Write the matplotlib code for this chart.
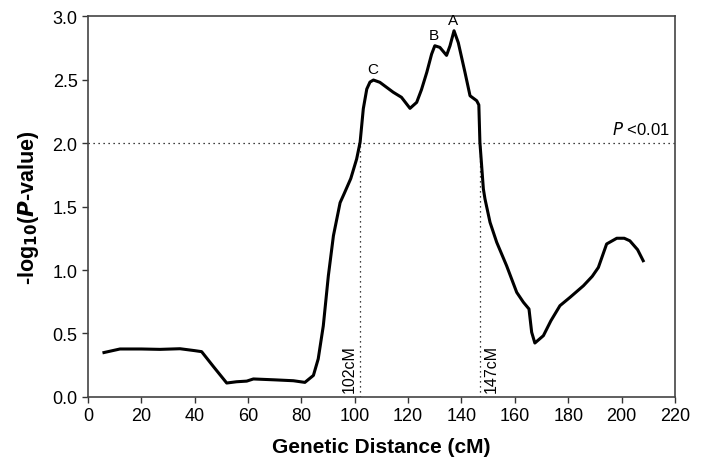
import matplotlib
matplotlib.use("Agg")
import matplotlib.pyplot as plt

plt.rcParams['font.family'] = ['Liberation Sans', 'DejaVu Sans']

# curve
dist_cm = [6, 12, 20, 27, 34.5, 40, 42.6, 47, 52, 55.7, 59.5, 62, 70, 77, 81.3, 84.5, 86.3,
           88.2, 90.1, 92, 94.5, 96, 98.5, 100.7, 102, 103.2, 104.5, 105.7, 107, 109.4,
           114.4, 117.5, 120.7, 123.2, 125, 127, 128.8, 130, 131.9, 134.4, 135.7, 137.2,
           138.8, 141.3, 143.2, 145.7, 146.5, 146.9, 148.2, 148.8, 150.7, 153.2, 156.9,
           160.7, 163.2, 165.3, 166.3, 167.5, 170.7, 173.5, 176.9, 180.7, 185.7, 189,
           191.3, 194.4, 198.2, 201, 203.1, 206, 208.1]
neg_log_p = [0.35, 0.378, 0.378, 0.375, 0.38, 0.365, 0.357, 0.24, 0.11, 0.12, 0.125, 0.142,
             0.135, 0.128, 0.115, 0.17, 0.3, 0.56, 0.955, 1.27, 1.53, 1.6, 1.72, 1.874,
             2.006, 2.27, 2.425, 2.48, 2.496, 2.478, 2.40, 2.36, 2.273, 2.32, 2.42, 2.557,
             2.70, 2.766, 2.753, 2.69, 2.766, 2.884, 2.79, 2.557, 2.372, 2.333, 2.30, 2.006,
             1.638, 1.56, 1.375, 1.218, 1.034, 0.824, 0.746, 0.693, 0.51, 0.425, 0.483,
             0.60, 0.719, 0.785, 0.876, 0.95, 1.02, 1.205, 1.25, 1.25, 1.23, 1.16, 1.073]

threshold = 2.0
flank_cm = [102, 147]
flank_labels = ["102cM", "147cM"]
flank_side = [-1, 1]   # label left / right of its line
peak_cm = [107, 130, 137]
peak_val = [2.496, 2.766, 2.884]
peak_labels = ["C", "B", "A"]

fig = plt.figure(figsize=(7.06, 4.6), dpi=100)
ax = fig.add_axes([0.1246, 0.1348, 0.8314, 0.8282])

ax.plot(dist_cm, neg_log_p, color='black', lw=2.2, solid_joinstyle='round')
ax.axhline(threshold, color='black', lw=0.9, ls=(0, (1, 3)))
for xc, lab, side in zip(flank_cm, flank_labels, flank_side):
    ax.plot([xc, xc], [0, threshold], color='black', lw=0.9, ls=(0, (1, 3)))
    ax.text(xc + side * 1.2, 0.04, lab, rotation=90, ha='right' if side < 0 else 'left',
            va='bottom', fontsize=11.5)
for xc, yv, lab in zip(peak_cm, peak_val, peak_labels):
    ax.text(xc - 0.3, yv + 0.03, lab, ha='center', va='bottom', fontsize=11)
ax.text(218, threshold + 0.05, r"$\it{P}$ <0.01", ha='right', va='bottom', fontsize=12)

ax.set_xlim(0, 220)
ax.set_ylim(0, 3.0)
ax.set_xticks(range(0, 221, 20))
ax.set_yticks([0, 0.5, 1.0, 1.5, 2.0, 2.5, 3.0])
ax.set_yticklabels([f"{v:.1f}" for v in [0, 0.5, 1.0, 1.5, 2.0, 2.5, 3.0]])
ax.tick_params(labelsize=13, direction='out', length=4, width=1, colors='#333333', labelcolor='black')
for s in ax.spines.values():
    s.set_color('#444444')
    s.set_linewidth(1.2)

ax.set_xlabel("Genetic Distance (cM)", fontsize=15, fontweight='bold', labelpad=9)
ax.set_ylabel(r"-log$_{\mathbf{10}}$($\bfit{P}$-value)", fontsize=15.5, fontweight='bold', labelpad=8)

fig.savefig("out.png", dpi=100)
